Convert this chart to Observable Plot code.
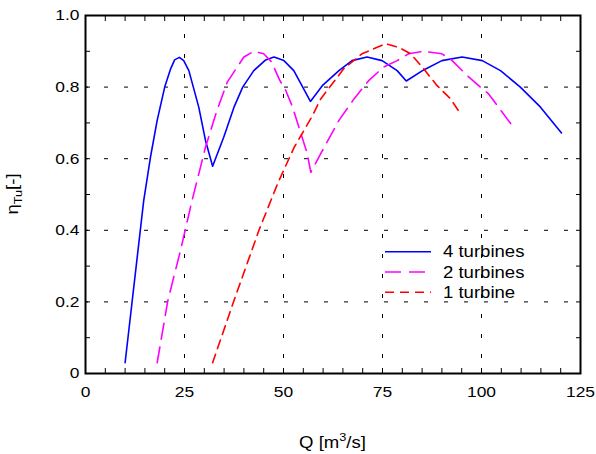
<!DOCTYPE html>
<html><head><meta charset="utf-8">
<script src="https://cdn.jsdelivr.net/npm/d3@7"></script>
<script src="https://cdn.jsdelivr.net/npm/@observablehq/plot@0.6"></script>
<style>
body{margin:0;background:#fff;}
#wrap{position:relative;width:596px;height:454px;}
</style>
</head><body><div id="wrap"></div>
<script>
// 4 turbines
const q4 = [10,14.7,16.4,18.1,20,21.5,22.5,23.7,24.8,26.1,28.6,30.3,32.1,34.9,37.5,39.7,42.5,45.5,47.6,50.1,52.6,56.8,59.8,64,67.3,71.1,74.9,78.7,81,85.4,90,95.1,100.2,104.8,109.8,114.9,120.2];
const eta4 = [0.03,0.483,0.604,0.707,0.80,0.851,0.876,0.883,0.874,0.846,0.744,0.651,0.579,0.66,0.744,0.80,0.846,0.876,0.884,0.874,0.846,0.76,0.804,0.846,0.874,0.884,0.874,0.846,0.817,0.848,0.874,0.884,0.874,0.846,0.80,0.744,0.672];
// 2 turbines
const q2 = [18.1,20.8,24,26.9,30.3,33.2,35.8,40,42.5,45,47,49,50.6,52.3,54.4,56,56.9,59.4,64,67.8,71.5,75.3,78.7,81.6,85.4,90,92.6,96.4,99.7,101.8,107.7];
const eta2 = [0.03,0.204,0.344,0.483,0.632,0.735,0.814,0.884,0.90,0.893,0.87,0.82,0.79,0.744,0.67,0.614,0.562,0.614,0.707,0.767,0.818,0.856,0.874,0.893,0.90,0.893,0.874,0.832,0.80,0.781,0.693];
// 1 turbine
const q1 = [32.1,37.5,43.8,48.5,52.7,57.3,59.4,65.2,69.8,75.8,79.1,82.1,85.4,88.8,92.2,94.9];
const eta1 = [0.03,0.204,0.40,0.53,0.632,0.72,0.767,0.851,0.893,0.921,0.911,0.893,0.851,0.804,0.767,0.722];

const seriesNames = ["4 turbines","2 turbines","1 turbine"];
const seriesColors = ["#0000ff","#ff00ff","#ff0000"];
const seriesDash = [null,"16,8","9,6"];

const xMajor = [0,25,50,75,100,125];
const xGrid = [25,50,75,100];
const xMinor = d3.range(0,126,5);
const yMajor = [0,0.2,0.4,0.6,0.8,1.0];
const yGrid = [0.2,0.4,0.6,0.8];
const yMinor = d3.range(0,11).map(i=>i/10);

const toRows = (q,e)=>q.map((v,i)=>({q:v,eta:e[i]}));
const rows = [toRows(q4,eta4),toRows(q2,eta2),toRows(q1,eta1)];

const font = "'Liberation Sans', Arial, sans-serif";
const gridStyle = {stroke:"black", strokeOpacity:1, strokeWidth:1, strokeDasharray:"4,16", strokeDashoffset:1};

const chart = Plot.plot({
  width:596, height:454,
  marginTop:15, marginRight:16, marginBottom:81, marginLeft:85,
  x:{domain:[0,125]},
  y:{domain:[0,1]},
  style:{fontFamily:font, fontSize:"15px", color:"black", background:"white", overflow:"visible"},
  marks:[
    Plot.gridX(xGrid, gridStyle),
    Plot.gridY(yGrid, gridStyle),
    ...rows.map((r,i)=>Plot.line(r,{x:"q", y:"eta", stroke:seriesColors[i], strokeWidth:1.6, strokeDasharray:seriesDash[i]})),
    Plot.axisX(xMinor,{anchor:"bottom", tickSize:-5, text:null, label:null}),
    Plot.axisX(xMinor,{anchor:"top", tickSize:-5, text:null, label:null}),
    Plot.axisY(yMinor,{anchor:"left", tickSize:-5, text:null, label:null}),
    Plot.axisY(yMinor,{anchor:"right", tickSize:-5, text:null, label:null}),
    Plot.axisX(xMajor,{anchor:"bottom", tickSize:0, tickPadding:13, label:null, tickFormat:d=>String(d)}),
    Plot.axisY(yMajor,{anchor:"left", tickSize:0, tickPadding:6, label:null, tickFormat:d=>d===0?"0":d.toFixed(1)}),
    Plot.frame({stroke:"black", strokeWidth:2})
  ]
});
document.getElementById("wrap").appendChild(chart);

const svg = d3.select(chart);
const SX = 1.16;
// stretch tick labels horizontally
svg.selectAll("g[aria-label$='tick label'] text").each(function(){
  const t = this.getAttribute("transform");
  if (t) this.setAttribute("transform", t + ` scale(${SX},1)`);
});

// axis labels
const yl = svg.append("text")
  .attr("transform", `translate(18,194) rotate(-90) scale(${SX},1)`)
  .attr("text-anchor","middle")
  .attr("font-family", font).attr("font-size", 16).attr("fill","black");
yl.append("tspan").text("η");
yl.append("tspan").attr("font-size",11).attr("dy",4).text("Tu");
yl.append("tspan").attr("dy",-4).text("[-]");

const xl = svg.append("text")
  .attr("transform", `translate(332.5,448) scale(${SX},1)`)
  .attr("text-anchor","middle")
  .attr("font-family", font).attr("font-size", 16).attr("fill","black");
xl.append("tspan").text("Q [m");
xl.append("tspan").attr("font-size",11).attr("dy",-7).text("3");
xl.append("tspan").attr("dy",7).text("/s]");

// legend
const lg = svg.append("g").attr("text-anchor","start");
seriesNames.forEach((name,i)=>{
  const y = 251.7 + i*20.3;
  lg.append("line").attr("x1",385).attr("x2",431).attr("y1",y).attr("y2",y)
    .attr("stroke",seriesColors[i]).attr("stroke-width",1.6)
    .attr("stroke-dasharray",seriesDash[i]);
  lg.append("text").attr("transform",`translate(443,${y}) scale(${SX},1)`).attr("dy","0.35em")
    .attr("text-anchor","start")
    .attr("font-family",font).attr("font-size",16).attr("fill","black").text(name);
});
</script>
</body></html>
